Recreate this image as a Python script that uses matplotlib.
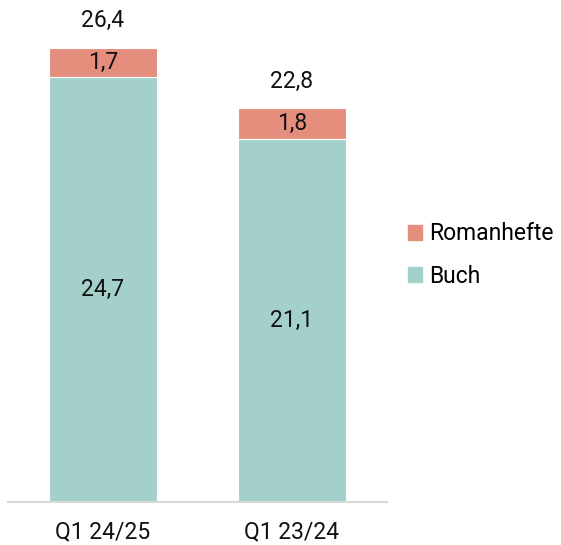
import matplotlib
matplotlib.use("Agg")
import matplotlib.pyplot as plt
from matplotlib.patches import Patch

categories = ["Q1 24/25", "Q1 23/24"]
buch = [24.7, 21.1]
romanhefte = [1.7, 1.8]
totals = [26.4, 22.8]

def fmt(v):
    return f"{v:.1f}".replace(".", ",")

plt.rcParams['font.family'] = ['Roboto', 'DejaVu Sans']
c_buch = "#A3D0CA"
c_roman = "#E58E7E"

fig = plt.figure(figsize=(5.61, 5.45), dpi=100)
ax = fig.add_axes([8/561, 43/545, 379/561, 482/545])
x = list(range(len(categories)))
w = 0.571
ax.bar(x, buch, width=w, color=c_buch, edgecolor="white", linewidth=0.8)
ax.bar(x, romanhefte, width=w, bottom=buch, color=c_roman, edgecolor="white", linewidth=0.8)

fs = 16.5
for i in x:
    ax.text(i, buch[i] / 2, fmt(buch[i]), ha="center", va="center", fontsize=fs, color="#111111")
    ax.text(i, buch[i] + romanhefte[i] / 2, fmt(romanhefte[i]), ha="center", va="center", fontsize=fs, color="#111111")
    ax.text(i, totals[i] + 0.95, fmt(totals[i]), ha="center", va="bottom", fontsize=fs, color="#111111")

ax.set_xlim(-0.503, 1.503)
ax.set_ylim(0, 28.02)
ax.set_xticks(x)
ax.set_xticklabels(categories, fontsize=fs, color="#111111")
ax.tick_params(axis="x", length=0, pad=13)
ax.set_yticks([])
for s in ["top", "right", "left"]:
    ax.spines[s].set_visible(False)
ax.spines["bottom"].set_color("#d9d9d9")
ax.spines["bottom"].set_linewidth(1.5)

handles = [Patch(color=c_roman, label="Romanhefte"), Patch(color=c_buch, label="Buch")]
fig.legend(handles=handles, loc="center left", bbox_to_anchor=(408/561, 1 - 255/545),
           frameon=False, fontsize=fs, handlelength=0.62, handleheight=0.62,
           handletextpad=0.3, labelspacing=0.85, borderaxespad=0, borderpad=0)

fig.savefig("out.png", dpi=100)
